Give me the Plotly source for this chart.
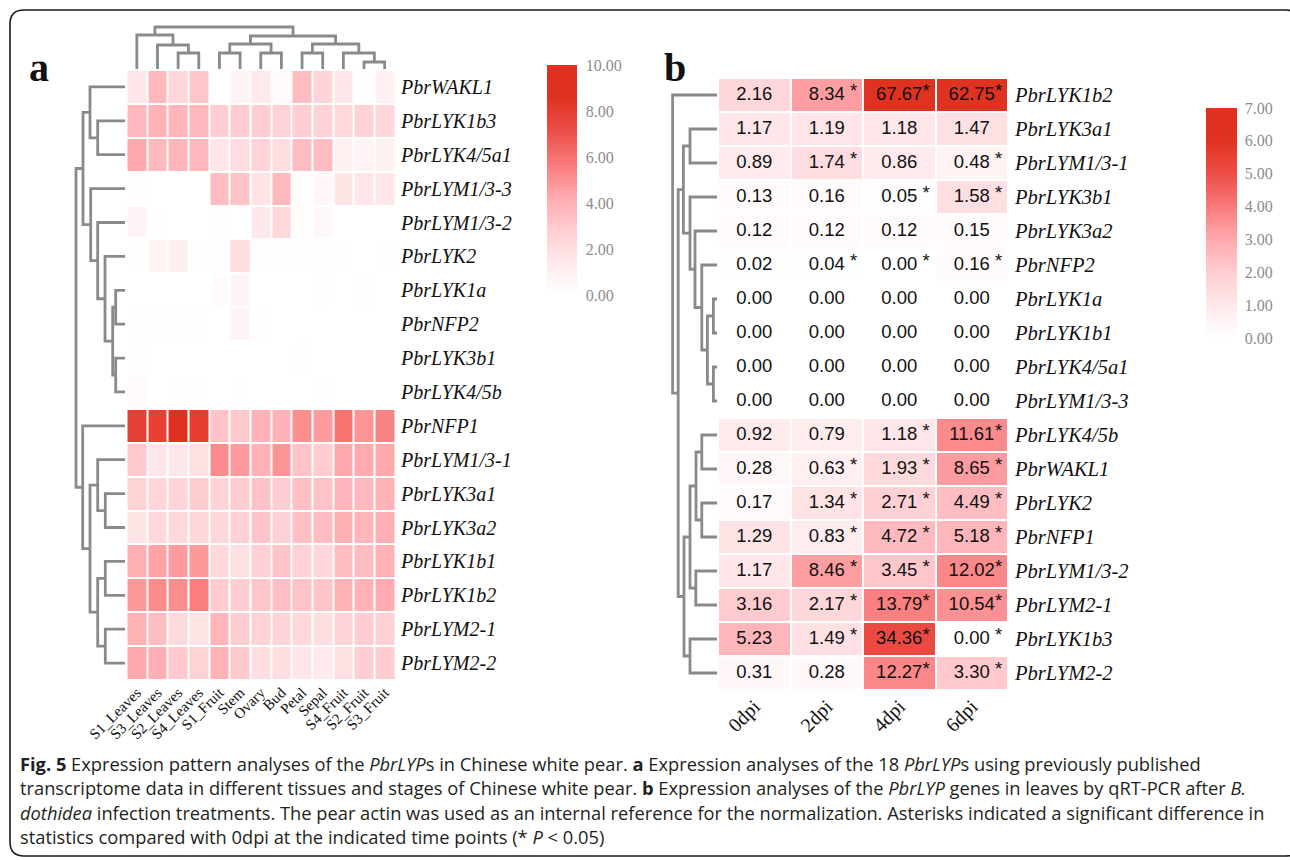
import numpy as np
import plotly.graph_objects as go

W, H = 1290, 860

# ---------------- Panel a data ----------------
a_cols = ["S1_Leaves", "S3_Leaves", "S2_Leaves", "S4_Leaves", "S1_Fruit", "Stem", "Ovary",
          "Bud", "Petal", "Sepal", "S4_Fruit", "S2_Fruit", "S3_Fruit"]
a_rows = ["PbrWAKL1", "PbrLYK1b3", "PbrLYK4/5a1", "PbrLYM1/3-3", "PbrLYM1/3-2", "PbrLYK2",
          "PbrLYK1a", "PbrNFP2", "PbrLYK3b1", "PbrLYK4/5b", "PbrNFP1", "PbrLYM1/3-1",
          "PbrLYK3a1", "PbrLYK3a2", "PbrLYK1b1", "PbrLYK1b2", "PbrLYM2-1", "PbrLYM2-2"]
a_values = [
    [1.6, 3.7, 2.4, 3.1, 0.0, 0.7, 1.4, 0.3, 3.5, 2.5, 1.5, 0.1, 0.9],
    [3.7, 3.9, 3.8, 3.7, 2.8, 2.9, 2.8, 2.6, 2.8, 2.6, 2.2, 2.6, 2.4],
    [4.3, 3.7, 3.8, 3.7, 1.6, 2.1, 2.5, 2.0, 3.5, 3.5, 0.9, 0.7, 1.0],
    [0.1, 0.0, 0.0, 0.0, 3.5, 3.3, 1.7, 3.7, 0.2, 0.5, 1.7, 1.6, 1.6],
    [0.7, 0.1, 0.0, 0.0, 0.1, 0.0, 1.5, 2.3, 0.2, 0.5, 0.0, 0.0, 0.0],
    [0.2, 0.8, 1.1, 0.1, 0.1, 2.1, 0.05, 0.05, 0.05, 0.05, 0.05, 0.0, 0.05],
    [0.0, 0.0, 0.0, 0.0, 0.3, 0.7, 0.0, 0.0, 0.0, 0.05, 0.0, 0.1, 0.0],
    [0.1, 0.1, 0.1, 0.1, 0.0, 0.7, 0.05, 0.0, 0.0, 0.0, 0.0, 0.0, 0.0],
    [0.05, 0.0, 0.0, 0.0, 0.0, 0.0, 0.0, 0.0, 0.05, 0.0, 0.0, 0.0, 0.0],
    [0.3, 0.0, 0.15, 0.1, 0.0, 0.05, 0.0, 0.0, 0.0, 0.05, 0.0, 0.0, 0.0],
    [7.9, 7.9, 9.5, 8.0, 3.3, 3.0, 3.9, 3.9, 5.1, 4.7, 5.9, 4.9, 5.4],
    [3.0, 1.6, 1.5, 1.9, 5.2, 4.7, 3.9, 4.9, 3.3, 2.9, 4.3, 4.2, 4.3],
    [2.6, 2.4, 2.5, 2.8, 2.5, 2.9, 3.3, 2.8, 3.4, 3.3, 3.8, 3.6, 3.9],
    [1.7, 2.3, 2.3, 2.4, 2.4, 2.7, 3.2, 2.7, 3.4, 3.5, 4.0, 3.8, 4.1],
    [4.1, 4.5, 4.7, 4.8, 2.3, 1.9, 2.7, 3.2, 2.6, 2.4, 3.5, 3.5, 3.9],
    [4.8, 5.2, 5.1, 5.6, 2.9, 2.8, 3.1, 3.4, 3.3, 3.2, 3.9, 3.9, 4.2],
    [3.9, 3.5, 2.2, 1.7, 3.8, 2.8, 2.6, 2.5, 2.3, 2.0, 2.5, 2.8, 2.7],
    [4.3, 4.1, 3.0, 2.6, 3.9, 3.0, 2.0, 2.0, 1.6, 1.3, 1.9, 2.8, 2.9],
]
# cluster trees: (left, right, merge height); leaves are row / column indices
a_row_tree = (((0, (1, 2, 5.46), 7.0),
               (3, (4, (5, ((6, 7, 1.86), (8, 9, 1.86), 2.46), 4.0), 5.46), 6.86), 8.4),
              (10, ((11, (12, 13, 3.94), 5.46), ((14, 15, 3.94), (16, 17, 3.94), 5.46), 7.0), 8.46),
              9.8)
a_col_tree = ((0, (1, (2, 3, 4.0), 6.0), 8.5),
              (((4, 5, 4.0), (6, 7, 4.0), 6.25),
               ((8, 9, 4.0), (10, (11, 12, 1.75), 4.0), 6.25), 8.25),
              10.5)
a_cbar_ticks = [0, 2, 4, 6, 8, 10]

# ---------------- Panel b data ----------------
b_cols = ["0dpi", "2dpi", "4dpi", "6dpi"]
b_rows = ["PbrLYK1b2", "PbrLYK3a1", "PbrLYM1/3-1", "PbrLYK3b1", "PbrLYK3a2", "PbrNFP2",
          "PbrLYK1a", "PbrLYK1b1", "PbrLYK4/5a1", "PbrLYM1/3-3", "PbrLYK4/5b", "PbrWAKL1",
          "PbrLYK2", "PbrNFP1", "PbrLYM1/3-2", "PbrLYM2-1", "PbrLYK1b3", "PbrLYM2-2"]
b_values = [
    [2.16, 8.34, 67.67, 62.75],
    [1.17, 1.19, 1.18, 1.47],
    [0.89, 1.74, 0.86, 0.48],
    [0.13, 0.16, 0.05, 1.58],
    [0.12, 0.12, 0.12, 0.15],
    [0.02, 0.04, 0.00, 0.16],
    [0.00, 0.00, 0.00, 0.00],
    [0.00, 0.00, 0.00, 0.00],
    [0.00, 0.00, 0.00, 0.00],
    [0.00, 0.00, 0.00, 0.00],
    [0.92, 0.79, 1.18, 11.61],
    [0.28, 0.63, 1.93, 8.65],
    [0.17, 1.34, 2.71, 4.49],
    [1.29, 0.83, 4.72, 5.18],
    [1.17, 8.46, 3.45, 12.02],
    [3.16, 2.17, 13.79, 10.54],
    [5.23, 1.49, 34.36, 0.00],
    [0.31, 0.28, 12.27, 3.30],
]
b_sig = [
    [0, 1, 1, 1],
    [0, 0, 0, 0],
    [0, 1, 0, 1],
    [0, 0, 1, 1],
    [0, 0, 0, 0],
    [0, 1, 1, 1],
    [0, 0, 0, 0],
    [0, 0, 0, 0],
    [0, 0, 0, 0],
    [0, 0, 0, 0],
    [0, 0, 1, 1],
    [0, 1, 1, 1],
    [0, 1, 1, 1],
    [0, 1, 1, 1],
    [0, 1, 1, 1],
    [0, 1, 1, 1],
    [0, 1, 1, 1],
    [0, 0, 1, 1],
]
b_row_tree = ((0,
               (((1, 2, 6.75), (3, (4, (5, ((6, 7, 0.9), (8, 9, 0.9), 2.4), 3.8), 5.5), 6.75), 8.4),
                ((((10, 11, 3.8), (12, 13, 3.8), 5.25), (14, 15, 5.3), 6.75), (16, 17, 6.75), 8.25),
                9.7),
               11.1))
b_cbar_ticks = [0, 1, 2, 3, 4, 5, 6, 7]

caption_lines = [
    "<b>Fig. 5</b> Expression pattern analyses of the <i>PbrLYP</i>s in Chinese white pear. <b>a</b> Expression analyses of the 18 <i>PbrLYP</i>s using previously published",
    "transcriptome data in different tissues and stages of Chinese white pear. <b>b</b> Expression analyses of the <i>PbrLYP</i> genes in leaves by qRT-PCR after <i>B.</i>",
    "<i>dothidea</i> infection treatments. The pear actin was used as an internal reference for the normalization. Asterisks indicated a significant difference in",
    "statistics compared with 0dpi at the indicated time points (* <i>P</i> < 0.05)",
]

# ---------------- helpers ----------------
def px(x):
    return x / W

def py(y):
    return 1 - y / H

def dendro(node):
    if isinstance(node, int):
        return float(node), 0.0, []
    l, r, h = node
    pl, hl, sl = dendro(l)
    pr, hr, sr = dendro(r)
    seg = [(hl, pl), (h, pl), (h, pr), (hr, pr)]
    return (pl + pr) / 2, h, sl + sr + [seg]

def segs_xy(tree, orient):
    _, _, segs = dendro(tree)
    xs, ys = [], []
    for seg in segs:
        for h, p in seg:
            if orient == "row":
                xs.append(h); ys.append(p)
            else:
                xs.append(p); ys.append(h)
        xs.append(None); ys.append(None)
    return xs, ys

colorscale = [
    [0.0, "#FFFFFF"], [1 / 7, "#FFE9EB"], [2 / 7, "#FFCDD1"], [3 / 7, "#FFA9AE"],
    [4 / 7, "#F97A7A"], [5 / 7, "#EC4E48"], [6 / 7, "#E03220"], [1.0, "#E03020"],
]
SERIF = "Liberation Serif"
SANS = "Liberation Sans"
DCOL = "#8A8A8A"

fig = go.Figure()

# ---- panel a heatmap
fig.add_trace(go.Heatmap(
    z=a_values, x=list(range(len(a_cols))), y=list(range(len(a_rows))),
    coloraxis="coloraxis", xgap=2, ygap=2, xaxis="x", yaxis="y", hoverinfo="skip"))
# ---- panel a dendrograms
xs, ys = segs_xy(a_row_tree, "row")
fig.add_trace(go.Scatter(x=xs, y=ys, mode="lines", line=dict(color=DCOL, width=2.8),
                         xaxis="x3", yaxis="y", showlegend=False, hoverinfo="skip"))
xs, ys = segs_xy(a_col_tree, "col")
fig.add_trace(go.Scatter(x=xs, y=ys, mode="lines", line=dict(color=DCOL, width=2.8),
                         xaxis="x", yaxis="y3", showlegend=False, hoverinfo="skip"))

# ---- panel b heatmap
b_arr = np.array(b_values)
b_z = np.log2(b_arr + 1)
fig.add_trace(go.Heatmap(
    z=b_z, x=list(range(len(b_cols))), y=list(range(len(b_rows))),
    coloraxis="coloraxis2", xgap=2, ygap=2, xaxis="x4", yaxis="y4", hoverinfo="skip"))
# values
tx, ty, tt = [], [], []
sx, sy = [], []
for i, row in enumerate(b_values):
    for j, v in enumerate(row):
        tx.append(j); ty.append(i); tt.append(f"{v:.2f}")
        if b_sig[i][j]:
            sx.append(j + 0.37); sy.append(i - 0.07)
fig.add_trace(go.Scatter(x=tx, y=ty, text=tt, mode="text",
                         textfont=dict(family=SANS, size=18.5, color="#111111"),
                         xaxis="x4", yaxis="y4", showlegend=False, hoverinfo="skip"))
fig.add_trace(go.Scatter(x=sx, y=sy, text=["*"] * len(sx), mode="text",
                         textfont=dict(family=SANS, size=18.5, color="#111111"),
                         xaxis="x4", yaxis="y4", showlegend=False, hoverinfo="skip"))
xs, ys = segs_xy(b_row_tree, "row")
fig.add_trace(go.Scatter(x=xs, y=ys, mode="lines", line=dict(color=DCOL, width=2.8),
                         xaxis="x5", yaxis="y4", showlegend=False, hoverinfo="skip"))

hidden = dict(visible=False, showgrid=False, zeroline=False, fixedrange=True, automargin=False)

fig.update_layout(
    template="none",
    width=W, height=H, margin=dict(l=0, r=0, t=0, b=0, pad=0, autoexpand=False),
    paper_bgcolor="white", plot_bgcolor="rgba(0,0,0,0)", showlegend=False,
    xaxis=dict(domain=[px(126.5), px(395)], range=[-0.5, len(a_cols) - 0.5], anchor="y",
               tickmode="array", tickvals=list(range(len(a_cols))), ticktext=a_cols,
               tickangle=-45, ticks="", showgrid=False, zeroline=False, showline=False,
               automargin=False,
               tickfont=dict(family=SERIF, size=15, color="#111111")),
    yaxis=dict(domain=[py(680), py(70)], range=[len(a_rows) - 0.5, -0.5], anchor="x", side="right",
               tickmode="array", tickvals=list(range(len(a_rows))),
               ticktext=[f"<i>{r}</i>" for r in a_rows], ticks="", showgrid=False,
               zeroline=False, showline=False, ticklabelstandoff=5, automargin=False,
               tickfont=dict(family=SERIF, size=20, color="#111111")),
    xaxis3=dict(domain=[px(55), px(125)], range=[14, 0], anchor="y", **hidden),
    yaxis3=dict(domain=[py(69), py(14)], range=[0, 13.75], anchor="x", **hidden),
    xaxis4=dict(domain=[px(718), px(1008)], range=[-0.5, len(b_cols) - 0.5], anchor="y4",
                tickmode="array", tickvals=list(range(len(b_cols))), ticktext=b_cols,
                tickangle=-45, ticks="", showgrid=False, zeroline=False, showline=False,
                automargin=False,
                tickfont=dict(family=SERIF, size=20, color="#111111")),
    yaxis4=dict(domain=[py(690), py(78)], range=[len(b_rows) - 0.5, -0.5], anchor="x4", side="right",
                tickmode="array", tickvals=list(range(len(b_rows))),
                ticktext=[f"<i>{r}</i>" for r in b_rows], ticks="", showgrid=False,
                zeroline=False, showline=False, ticklabelstandoff=6, automargin=False,
                tickfont=dict(family=SERIF, size=20.5, color="#111111")),
    xaxis5=dict(domain=[px(660), px(717)], range=[14.25, 0], anchor="y4", **hidden),
    coloraxis=dict(cmin=0, cmax=10, colorscale=colorscale,
                   colorbar=dict(x=px(547), xanchor="left", y=py(65), yanchor="top",
                                 len=230 / H, thickness=30, outlinewidth=0, xpad=0, ypad=0,
                                 tickmode="array", tickvals=a_cbar_ticks,
                                 ticktext=[f"{t:.2f}" for t in a_cbar_ticks],
                                 ticks="outside", ticklen=6, tickcolor="rgba(0,0,0,0)",
                                 tickfont=dict(family=SERIF, size=16, color="#8C8C8C"))),
    coloraxis2=dict(cmin=0, cmax=7, colorscale=colorscale,
                    colorbar=dict(x=px(1206), xanchor="left", y=py(108), yanchor="top",
                                  len=230 / H, thickness=31, outlinewidth=0, xpad=0, ypad=0,
                                  tickmode="array", tickvals=b_cbar_ticks,
                                  ticktext=[f"{t:.2f}" for t in b_cbar_ticks],
                                  ticks="outside", ticklen=5, tickcolor="rgba(0,0,0,0)",
                                  tickfont=dict(family=SERIF, size=16, color="#8C8C8C"))),
)

# panel letters
fig.add_annotation(x=px(27), y=py(68), xref="paper", yref="paper", xanchor="left", yanchor="middle",
                   text="<b>a</b>", showarrow=False, font=dict(family=SERIF, size=40, color="#111111"))
fig.add_annotation(x=px(662), y=py(68), xref="paper", yref="paper", xanchor="left", yanchor="middle",
                   text="<b>b</b>", showarrow=False, font=dict(family=SERIF, size=40, color="#111111"))

# caption
for k, line in enumerate(caption_lines):
    fig.add_annotation(x=px(18), y=py(763 + 24.5 * k), xref="paper", yref="paper",
                       xanchor="left", yanchor="middle", text=line, showarrow=False,
                       font=dict(family="Open Sans", size=18.3, color="#231F20"))

# rounded outer frame
r = 14
x0, y0, x1, y1 = 10, 10, 1300, 856
path = (f"M {px(x0)},{py(y0 + r)} Q {px(x0)},{py(y0)} {px(x0 + r)},{py(y0)} "
        f"L {px(x1 - r)},{py(y0)} Q {px(x1)},{py(y0)} {px(x1)},{py(y0 + r)} "
        f"L {px(x1)},{py(y1 - r)} Q {px(x1)},{py(y1)} {px(x1 - r)},{py(y1)} "
        f"L {px(x0 + r)},{py(y1)} Q {px(x0)},{py(y1)} {px(x0)},{py(y1 - r)} Z")
fig.add_shape(type="path", path=path, xref="paper", yref="paper",
              line=dict(color="#1A1A1A", width=1.6), fillcolor="rgba(0,0,0,0)")

fig.write_html("out.html")
